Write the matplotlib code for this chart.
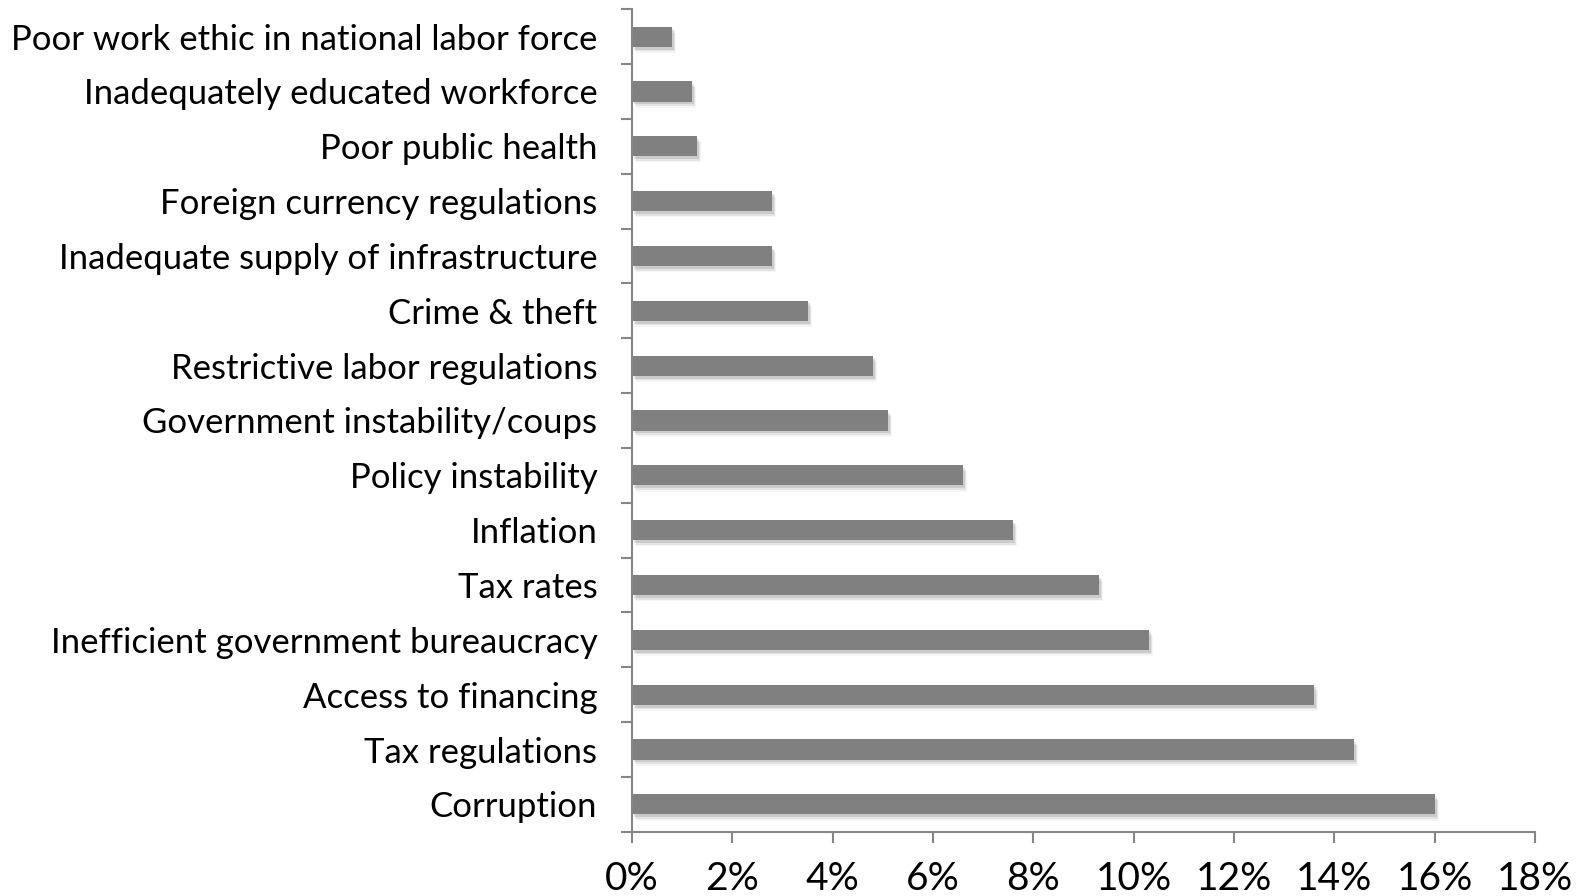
import numpy as np
import matplotlib.pyplot as plt
from matplotlib.ticker import FuncFormatter

# bottom to top
factors = ["Corruption", "Tax regulations", "Access to financing",
           "Inefficient government bureaucracy", "Tax rates", "Inflation",
           "Policy instability", "Government instability/coups",
           "Restrictive labor regulations", "Crime & theft",
           "Inadequate supply of infrastructure", "Foreign currency regulations",
           "Poor public health", "Inadequately educated workforce",
           "Poor work ethic in national labor force"]
share = [16.0, 14.4, 13.6, 10.3, 9.3, 7.6, 6.6, 5.1, 4.8, 3.5, 2.8, 2.8, 1.3, 1.2, 0.8]
xticks = list(range(0, 19, 2))

plt.rcParams['font.family'] = ['Lato', 'DejaVu Sans']

fig = plt.figure(figsize=(15.76, 8.96), dpi=100)
ax = fig.add_axes([0.401, 0.0717, 0.573, 0.918])

y = np.arange(len(factors))
h = 0.37
# soft shadow
for k, a in enumerate([0.10, 0.07, 0.04]):
    off = 0.03 + 0.03 * k
    ax.barh(y - off - 0.02, share, height=h, left=0.04 + 0.02 * k,
            color='#000000', alpha=a, linewidth=0, zorder=1)
ax.barh(y, share, height=h, color='#808080', linewidth=0, zorder=2)

ax.set_xlim(0, 18)
ax.set_ylim(-0.5, len(factors) - 0.5)
ax.set_xticks(xticks)
ax.xaxis.set_major_formatter(FuncFormatter(lambda v, p: f"{v:.0f}%"))
ax.set_yticks(y)
ax.set_yticklabels(factors)
ax.set_yticks(np.arange(-0.5, len(factors)), minor=True)
ax.tick_params(axis='y', which='major', length=0, pad=25, labelsize=25)
ax.tick_params(axis='y', which='minor', length=8, width=1.5, color='#868686', direction='out')
ax.tick_params(axis='x', length=8, width=1.5, color='#868686', pad=13, labelsize=28)

for s in ['top', 'right']:
    ax.spines[s].set_visible(False)
for s in ['left', 'bottom']:
    ax.spines[s].set_color('#868686')
    ax.spines[s].set_linewidth(1.5)

fig.savefig("out.png", dpi=100)
